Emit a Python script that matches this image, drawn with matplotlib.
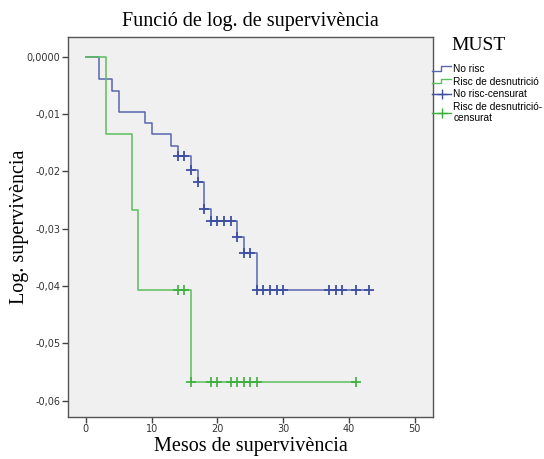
import numpy as np
import matplotlib
matplotlib.use("Agg")
import matplotlib.pyplot as plt
from matplotlib.lines import Line2D
from matplotlib.legend_handler import HandlerBase

# ---- data ----
times_nr = [0, 2, 4, 5, 9, 10, 13, 14, 16, 17, 18, 19, 23, 24, 26, 43]
logS_nr = [0, -0.0039, -0.0059, -0.0097, -0.0116, -0.0135, -0.0156, -0.0174,
           -0.0197, -0.0219, -0.0265, -0.0287, -0.0314, -0.0343, -0.0407, -0.0407]
cens_nr = [14, 15, 16, 17, 18, 19, 20, 21, 22, 23, 24, 25, 26, 27, 28, 29, 30,
           37, 38, 39, 41, 43]

times_rd = [0, 3, 7, 8, 16, 41]
logS_rd = [0, -0.0135, -0.0268, -0.0407, -0.0567, -0.0567]
cens_rd = [14, 15, 16, 19, 20, 22, 23, 24, 25, 26, 41]

xticks = [0, 10, 20, 30, 40, 50]
yticks = [0.0, -0.01, -0.02, -0.03, -0.04, -0.05, -0.06]
ytick_labels = ["0,0000", "-0,01", "-0,02", "-0,03", "-0,04", "-0,05", "-0,06"]

labels = ["No risc", "Risc de desnutrició", "No risc-censurat",
          "Risc de desnutrició-\ncensurat"]

c_blue = "#5866AE"
c_blue_m = "#3E4FA2"
c_green = "#5CBE5C"
c_green_m = "#3DAF3D"


def step_value(times, vals, t):
    idx = np.searchsorted(times, t, side="right") - 1
    return np.asarray(vals)[idx]


fig = plt.figure(figsize=(5.44, 4.59), dpi=100)
ax = fig.add_axes([0.125, 0.0922, 0.6715, 0.8272])
ax.set_facecolor("#F0F0F0")

ax.step(times_nr, logS_nr, where="post", color=c_blue, lw=1.1)
ax.step(times_rd, logS_rd, where="post", color=c_green, lw=1.1)
ax.plot(cens_nr, step_value(times_nr, logS_nr, cens_nr), ls="none", marker="+",
        ms=7, mew=1.3, color=c_blue_m)
ax.plot(cens_rd, step_value(times_rd, logS_rd, cens_rd), ls="none", marker="+",
        ms=6.5, mew=1.2, color=c_green_m)

ax.set_xlim(-2.7, 52.8)
ax.set_ylim(-0.0628, 0.00344)
ax.set_xticks(xticks)
ax.set_yticks(yticks)
ax.set_yticklabels(ytick_labels)
ax.tick_params(axis="both", direction="out", length=4, width=1, color="#444444",
               labelsize=7, labelcolor="#333333", pad=1.5)
for s in ax.spines.values():
    s.set_color("#555555")
    s.set_linewidth(1.0)

serif = "Liberation Serif"
ax.set_title("Funció de log. de supervivència", fontfamily=serif, fontsize=14.5,
             pad=8)
ax.set_xlabel("Mesos de supervivència", fontfamily=serif, fontsize=14.5,
              labelpad=2)
ax.set_ylabel("Log. supervivència", fontfamily=serif, fontsize=14.5, labelpad=-2)

fig.text(479 / 544, 1 - 46 / 459, "MUST", fontfamily=serif, fontsize=14,
         ha="center", va="center")


class StepHandler(HandlerBase):
    def create_artists(self, legend, orig_handle, xdescent, ydescent, width,
                       height, fontsize, trans):
        x = [-xdescent, -xdescent + width * 0.45, -xdescent + width * 0.45,
             -xdescent + width]
        y = [-ydescent + height * 0.15, -ydescent + height * 0.15,
             -ydescent + height * 0.85, -ydescent + height * 0.85]
        ln = Line2D(x, y, color=orig_handle.get_color(), lw=1.0)
        ln.set_transform(trans)
        return [ln]


h1 = Line2D([], [], color=c_blue)
h2 = Line2D([], [], color=c_green)
h3 = Line2D([], [], color=c_blue_m, marker="+", ms=7, lw=1.0)
h4 = Line2D([], [], color=c_green_m, marker="+", ms=7, lw=1.0)

leg = fig.legend([h1, h2, h3, h4], labels, loc="upper left",
                 bbox_to_anchor=(0.794, 1 - 64 / 459), frameon=False,
                 prop={"family": "Liberation Sans", "size": 7.3},
                 handlelength=1.9, handletextpad=0.2, labelspacing=0.25,
                 borderaxespad=0, borderpad=0,
                 handler_map={h1: StepHandler(), h2: StepHandler()})

fig.savefig("out.png", dpi=100, facecolor="white")
